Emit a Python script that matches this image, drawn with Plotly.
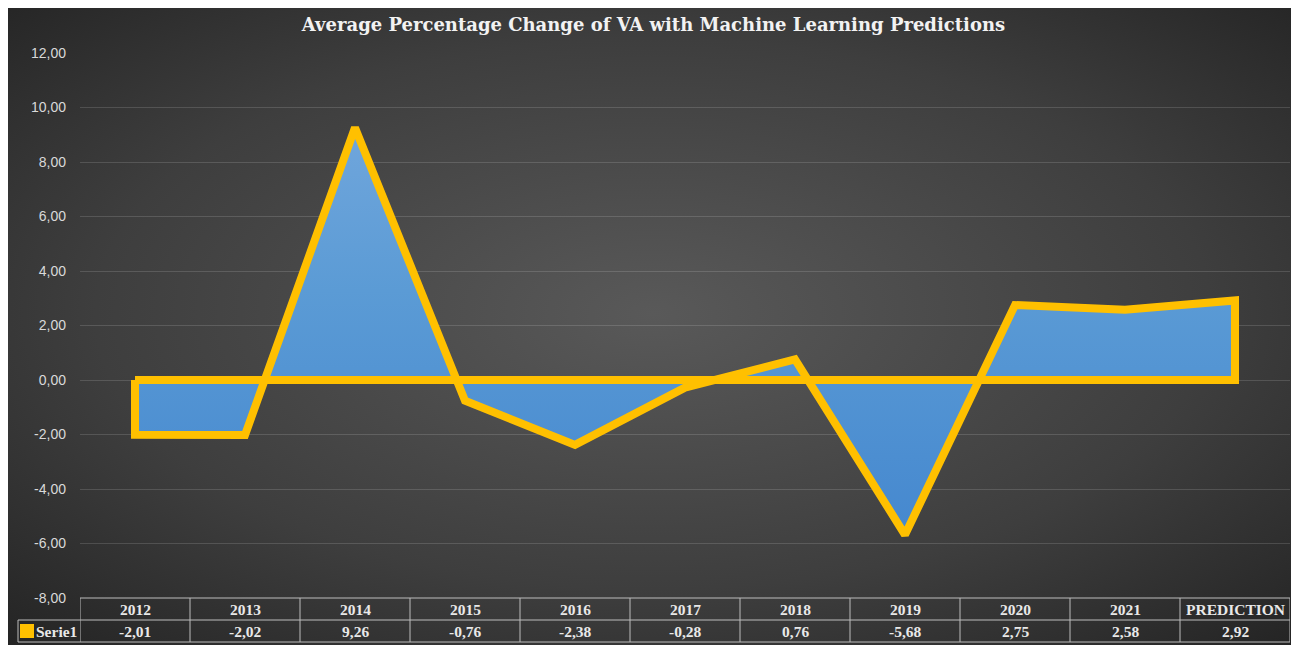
import base64
import plotly.graph_objects as go

categories = ["2012", "2013", "2014", "2015", "2016", "2017", "2018", "2019", "2020", "2021", "PREDICTION"]
values = [-2.01, -2.02, 9.26, -0.76, -2.38, -0.28, 0.76, -5.68, 2.75, 2.58, 2.92]
value_labels = ["-2,01", "-2,02", "9,26", "-0,76", "-2,38", "-0,28", "0,76", "-5,68", "2,75", "2,58", "2,92"]
y_tick_values = [-8, -6, -4, -2, 0, 2, 4, 6, 8, 10, 12]
y_tick_labels = ["-8,00", "-6,00", "-4,00", "-2,00", "0,00", "2,00", "4,00", "6,00", "8,00", "10,00", "12,00"]
series_name = "Serie1"
title_text = "Average Percentage Change of VA with Machine Learning Predictions"

OFF = 8  # page body margin
W, H = 1299 - OFF, 645 - OFF
SX0, SX1, SY0, SY1 = 80, 1290, 53, 598
ML, MR, MT, MB = SX0 - OFF, (1299 - SX1), SY0 - OFF, 645 - SY1
PW = SX1 - SX0
PH = SY1 - SY0

def px_x(p):
    return (p - SX0) / PW

def px_y(p):
    return (SY1 - p) / PH

idx = list(range(len(categories)))
poly_x = [idx[0]] + idx + [idx[-1], idx[0]]
poly_y = [0] + values + [0, 0]

YELLOW = "#FFC000"

fig = go.Figure()
fig.add_trace(go.Scatter(
    x=poly_x, y=poly_y, mode="lines", fill="toself",
    fillgradient=dict(type="vertical", colorscale=[[0, "#4588cf"], [0.6, "#5b9bd5"], [1, "#70a6dc"]]),
    line=dict(color=YELLOW, width=8),
    name=series_name, showlegend=False, hoverinfo="skip",
))

svg = ("<svg xmlns='http://www.w3.org/2000/svg' width='1291' height='637' viewBox='0 0 1291 637' "
       "preserveAspectRatio='none'><defs><radialGradient id='g' cx='50%' cy='48%' r='72%'>"
       "<stop offset='0' stop-color='#595959'/><stop offset='0.6' stop-color='#3e3e3e'/>"
       "<stop offset='1' stop-color='#242424'/></radialGradient></defs>"
       "<rect width='1291' height='637' fill='url(#g)'/></svg>")
src = "data:image/svg+xml;base64," + base64.b64encode(svg.encode()).decode()

shapes = []
annotations = []
line_col = "#bdbdbd"
y_top = px_y(598)
y_mid = px_y(620)
y_bot = px_y(642)
x_left_lab = px_x(18)
tfont = dict(family="Liberation Serif", size=15.5, color="#e8e8e8", weight="bold")

shapes.append(dict(type="line", xref="x", yref="paper", x0=-0.5, x1=len(categories) - 0.5,
                   y0=y_top, y1=y_top, line=dict(color=line_col, width=1)))
shapes.append(dict(type="line", xref="paper", yref="paper", x0=x_left_lab, x1=1,
                   y0=y_mid, y1=y_mid, line=dict(color=line_col, width=1)))
shapes.append(dict(type="line", xref="paper", yref="paper", x0=x_left_lab, x1=1,
                   y0=y_bot, y1=y_bot, line=dict(color=line_col, width=1)))
shapes.append(dict(type="line", xref="paper", yref="paper", x0=x_left_lab, x1=x_left_lab,
                   y0=y_mid, y1=y_bot, line=dict(color=line_col, width=1)))
for i in range(len(categories) + 1):
    xv = i - 0.5
    shapes.append(dict(type="line", xref="x", yref="paper", x0=xv, x1=xv,
                       y0=y_top, y1=y_bot, line=dict(color=line_col, width=1)))

for i, (c, v) in enumerate(zip(categories, value_labels)):
    annotations.append(dict(x=i, y=(y_top + y_mid) / 2, xref="x", yref="paper", text=c,
                            showarrow=False, yanchor="middle", font=tfont))
    annotations.append(dict(x=i, y=(y_mid + y_bot) / 2, xref="x", yref="paper", text=v,
                            showarrow=False, yanchor="middle", font=tfont))

shapes.append(dict(type="rect", xref="paper", yref="paper", x0=px_x(20), x1=px_x(34),
                   y0=px_y(638), y1=px_y(624), fillcolor=YELLOW, line=dict(width=0)))
annotations.append(dict(x=px_x(34), y=(y_mid + y_bot) / 2, xref="paper", yref="paper",
                        text=series_name, showarrow=False, xanchor="left", yanchor="middle",
                        font=tfont))

fig.update_layout(
    width=W, height=H,
    margin=dict(l=ML, r=MR, t=MT, b=MB),
    paper_bgcolor="#333333",
    plot_bgcolor="rgba(0,0,0,0)",
    title=dict(text=title_text, x=0.5, xanchor="center", xref="container",
               y=1 - (25 - OFF) / H, yanchor="middle", yref="container",
               font=dict(family="DejaVu Serif", size=18, color="#f2f2f2", weight="bold")),
    xaxis=dict(range=[-0.5, len(categories) - 0.5], showticklabels=False, showgrid=False,
               zeroline=False, showline=False, fixedrange=True),
    yaxis=dict(range=[-8, 12], tickmode="array", tickvals=y_tick_values, ticktext=y_tick_labels,
               showgrid=True, gridcolor="rgba(255,255,255,0.14)", gridwidth=1,
               zeroline=False, showline=False,
               tickfont=dict(family="Liberation Sans", size=14, color="#d9d9d9"), ticklabelstandoff=13),
    images=[dict(source=src, xref="paper", yref="paper", x=px_x(OFF), y=px_y(OFF),
                 sizex=px_x(1299) - px_x(OFF), sizey=px_y(OFF) - px_y(645),
                 xanchor="left", yanchor="top", sizing="stretch", layer="below")],
    shapes=shapes,
    annotations=annotations,
    showlegend=False,
)

fig.write_html("out.html")
